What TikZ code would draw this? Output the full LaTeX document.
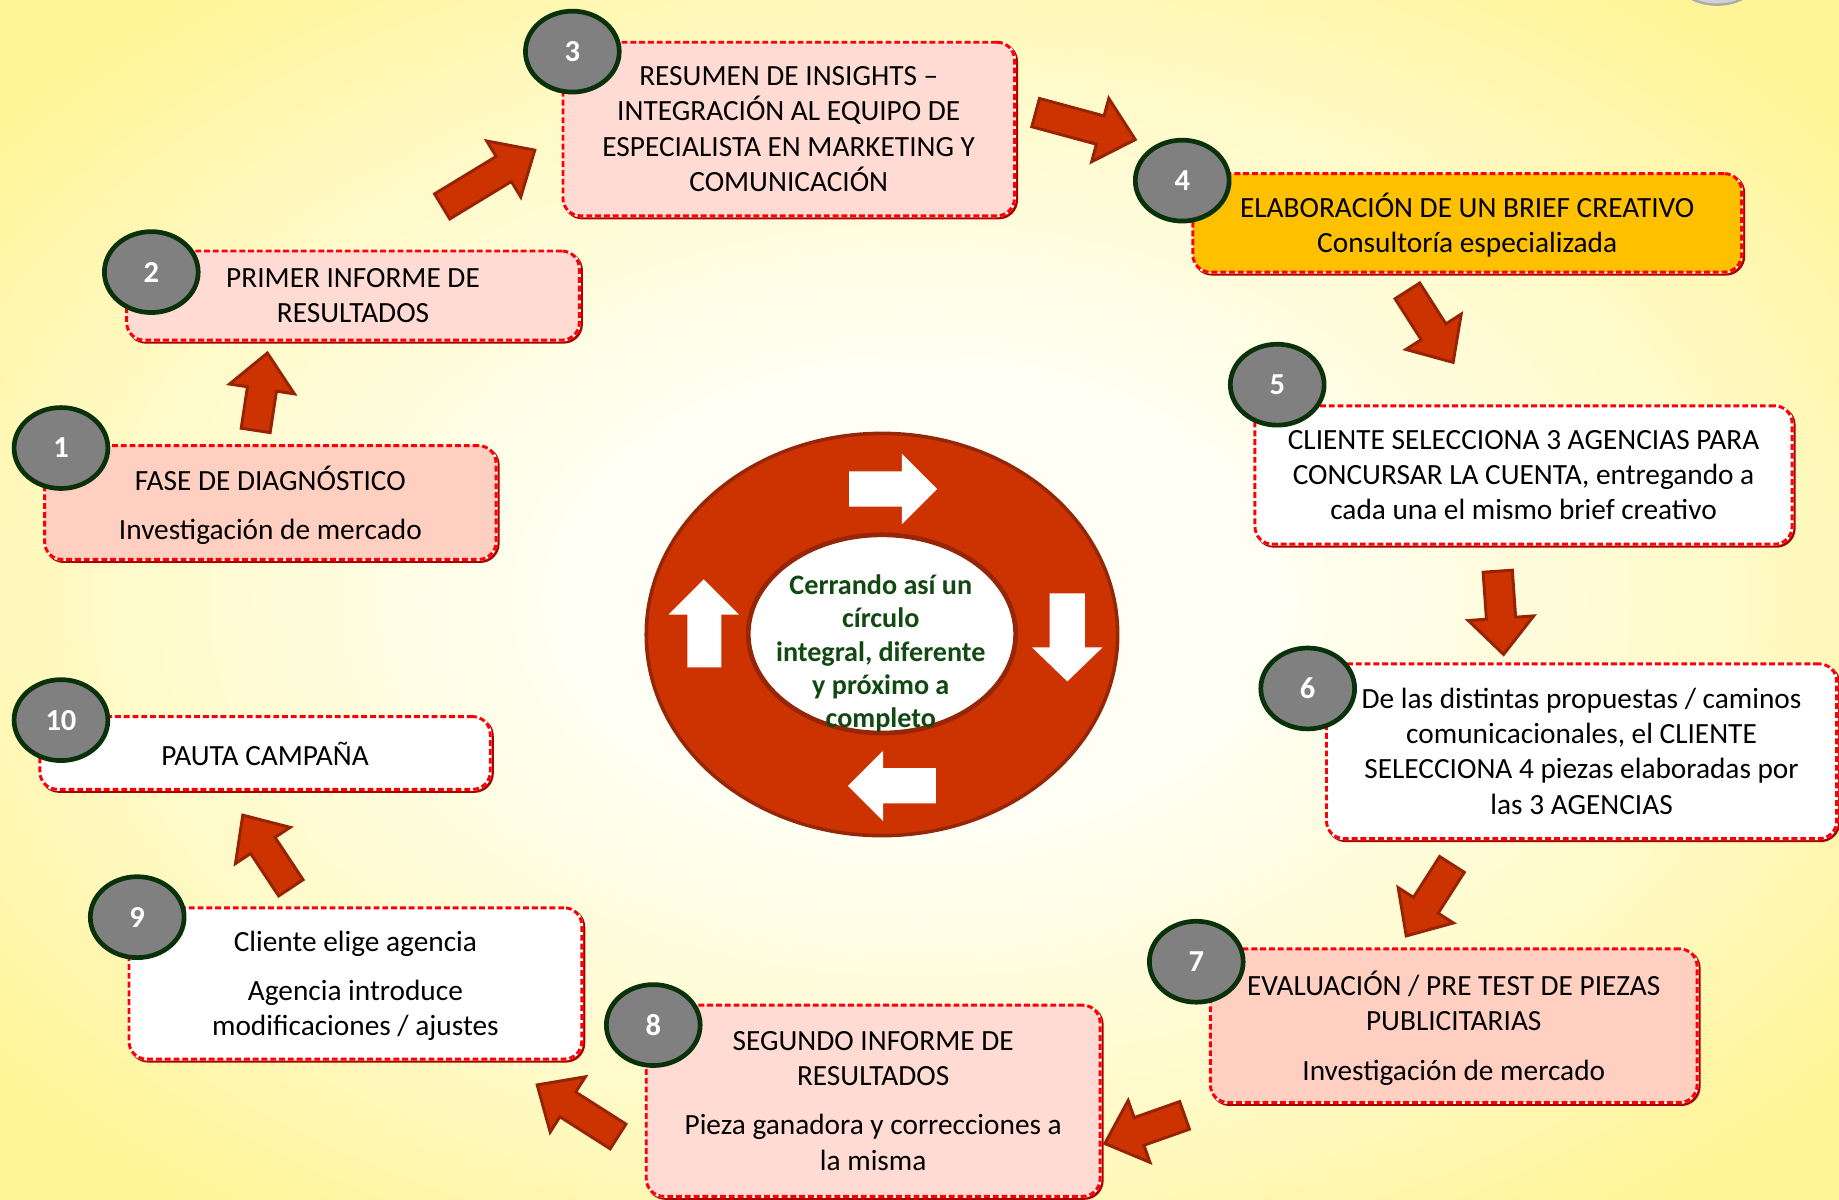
\documentclass[tikz,border=0pt]{standalone}
\usepackage{fontspec}
\setmainfont{Carlito}
\usetikzlibrary{shapes.geometric,calc}
\definecolor{bgin}{RGB}{255,255,246}
\definecolor{bgmid}{RGB}{255,250,200}
\definecolor{bgout}{RGB}{255,244,150}
\definecolor{pinkA}{RGB}{255,207,194}
\definecolor{pinkB}{RGB}{255,219,211}
\definecolor{gold}{RGB}{255,192,0}
\definecolor{bred}{RGB}{255,0,0}
\definecolor{bdark}{RGB}{170,0,0}
\definecolor{arrfill}{RGB}{204,51,0}
\definecolor{arrdraw}{RGB}{150,35,5}
\definecolor{numfill}{RGB}{128,128,128}
\definecolor{numdraw}{RGB}{10,50,10}
\definecolor{hubtext}{RGB}{18,72,18}
\definecolor{ringdraw}{RGB}{150,38,8}
\pgfdeclareradialshading{bgrad}{\pgfpoint{0bp}{0bp}}{color(0bp)=(bgin); color(9bp)=(bgin); color(22bp)=(bgmid); color(32bp)=(bgout); color(50bp)=(bgout)}
\newcommand{\bxfont}{\fontsize{25}{30}\selectfont}
\newcommand{\nbfont}{\fontsize{26}{30}\selectfont\bfseries}
\newcommand{\hbfont}{\fontsize{24}{28.5}\selectfont\bfseries}
\newcommand{\redarrow}[2]{%
  \coordinate (hb) at ($(#2)!31pt!(#1)$);
  \draw[redarrow] ($(#1)!12.5pt!90:(#2)$) -- ($(hb)!12.5pt!-90:(#1)$) -- ($(hb)!28pt!-90:(#1)$) -- (#2) -- ($(hb)!28pt!90:(#1)$) -- ($(hb)!12.5pt!90:(#1)$) -- ($(#1)!12.5pt!-90:(#2)$) -- cycle;
}
% #1 name, #2 centre, #3 width, #4 height, #5 fill, #6 text
\newcommand{\stepnode}[6]{%
  \node[stepbox, fill=#5, minimum width=#3pt, minimum height=#4pt] (#1) at (#2) {};
  \node[steptext] (#1-t) at ([yshift=-4.5pt]#1.center) {#6};
}
\tikzset{
  stepbox/.style={rectangle, rounded corners=15pt, line width=2.5pt, inner sep=0pt,
    preaction={draw=bdark, solid, line width=3pt, transform canvas={shift={(1.5pt,-1.5pt)}}},
    preaction={draw=white, solid, line width=2.5pt},
    draw=bred, dash pattern=on 5pt off 2.5pt},
  steptext/.style={inner sep=0pt, align=center, font=\bxfont, text=black,
    execute at begin node=\strut, execute at end node=\strut},
  numc/.style={ellipse, minimum width=80pt, minimum height=69pt, inner sep=0pt, fill=numfill, draw=numdraw, line width=4pt, text=white, font=\nbfont},
  redarrow/.style={fill=arrfill, draw=arrdraw, line width=2.5pt, line join=miter},
  whitearrow/.style={fill=white, draw=none},
}
\begin{document}
\begin{tikzpicture}[x=1pt,y=-1pt]
\useasboundingbox (0,0) rectangle (1568,1023);
\shade[shading=bgrad] (0,0) rectangle (1568,1023);
% top-right cut-off ellipse
\begin{scope}
\clip (0,0) rectangle (1568,1023);
\draw[fill=gray!35, draw=gray!65, line width=2pt] (1464,-22) ellipse [x radius=37, y radius=26];
\end{scope}
% central ring
\node[ellipse, minimum width=402pt, minimum height=343pt, fill=arrfill, draw=ringdraw, line width=3pt] (ring) at (752,541) {};
\node[ellipse, minimum width=228pt, minimum height=169pt, fill=white, draw=ringdraw, line width=4pt] (hub) at (752,540.5) {};
\fill[whitearrow] (724,402) -- (769,402) -- (769,387) -- (799,417) -- (769,447) -- (769,432) -- (724,432) -- cycle;
\fill[whitearrow] (895,506) -- (925,506) -- (925,552) -- (940,552) -- (910,581) -- (880,552) -- (895,552) -- cycle;
\fill[whitearrow] (798,655) -- (753,655) -- (753,640) -- (723,670) -- (753,700) -- (753,685) -- (798,685) -- cycle;
\fill[whitearrow] (586,569) -- (586,524) -- (570,524) -- (600,494) -- (630,524) -- (615,524) -- (615,569) -- cycle;
\node[align=center, font=\hbfont, text=hubtext, inner sep=0pt, execute at begin node=\strut, execute at end node=\strut] (hubtxt) at (751,559.5) {Cerrando así un\\círculo\\integral, diferente\\y próximo a\\completo};
% boxes
\stepnode{b1}{230.5,428.5}{385}{97}{pinkA}{FASE DE DIAGNÓSTICO\\[12pt]Investigación de mercado}
\stepnode{b2}{301,252}{386}{76}{pinkB}{PRIMER INFORME DE\\RESULTADOS}
\stepnode{b3}{672.5,110}{385}{148}{pinkB}{RESUMEN DE INSIGHTS –\\INTEGRACIÓN AL EQUIPO DE\\ESPECIALISTA EN MARKETING Y\\COMUNICACIÓN}
\stepnode{b4}{1251,190}{468}{84}{gold}{ELABORACIÓN DE UN BRIEF CREATIVO\\Consultoría especializada}
\stepnode{b5}{1299,405}{458}{118}{white}{CLIENTE SELECCIONA 3 AGENCIAS PARA\\CONCURSAR LA CUENTA, entregando a\\cada una el mismo brief creativo}
\stepnode{b6}{1348.5,640.5}{435}{149}{white}{De las distintas propuestas / caminos\\comunicacionales, el CLIENTE\\SELECCIONA 4 piezas elaboradas por\\las 3 AGENCIAS}
\stepnode{b7}{1239.5,874.5}{415}{131}{pinkA}{EVALUACIÓN / PRE TEST DE PIEZAS\\PUBLICITARIAS\\[12pt]Investigación de mercado}
\stepnode{b8}{744.5,938.5}{387}{163}{pinkB}{SEGUNDO INFORME DE\\RESULTADOS\\[12pt]Pieza ganadora y correcciones a\\la misma}
\stepnode{b9}{303,838.5}{386}{129}{white}{Cliente elige agencia\\[12pt]Agencia introduce\\modificaciones / ajustes}
\stepnode{b10}{226,642}{384}{62}{white}{PAUTA CAMPAÑA}
% number circles
\node[numc] (n1) at (52,382) {1};
\node[numc] (n2) at (129,232) {2};
\node[numc] (n3) at (488,44) {3};
\node[numc] (n4) at (1008,154) {4};
\node[numc] (n5) at (1089,328) {5};
\node[numc] (n6) at (1115,587) {6};
\node[numc] (n7) at (1020,820) {7};
\node[numc] (n8) at (557,874) {8};
\node[numc] (n9) at (117,782) {9};
\node[numc] (n10) at (52,614) {10};
% connector arrows
\coordinate (t12) at (218,367); \coordinate (h12) at (228,301);
\coordinate (t23) at (377,176); \coordinate (h23) at (456,128);
\coordinate (t34) at (883,96);  \coordinate (h34) at (968,119);
\coordinate (t45) at (1200,248); \coordinate (h45) at (1239,309);
\coordinate (t56) at (1277,487); \coordinate (h56) at (1282,558);
\coordinate (t67) at (1238,737); \coordinate (h67) at (1199,798);
\coordinate (t78) at (1010,951); \coordinate (h78) at (942,975);
\coordinate (t89) at (527,969); \coordinate (h89) at (458,925);
\coordinate (t910) at (248,757); \coordinate (h910) at (207,695);
\redarrow{t12}{h12}
\redarrow{t23}{h23}
\redarrow{t34}{h34}
\redarrow{t45}{h45}
\redarrow{t56}{h56}
\redarrow{t67}{h67}
\redarrow{t78}{h78}
\redarrow{t89}{h89}
\redarrow{t910}{h910}
\end{tikzpicture}
\end{document}
